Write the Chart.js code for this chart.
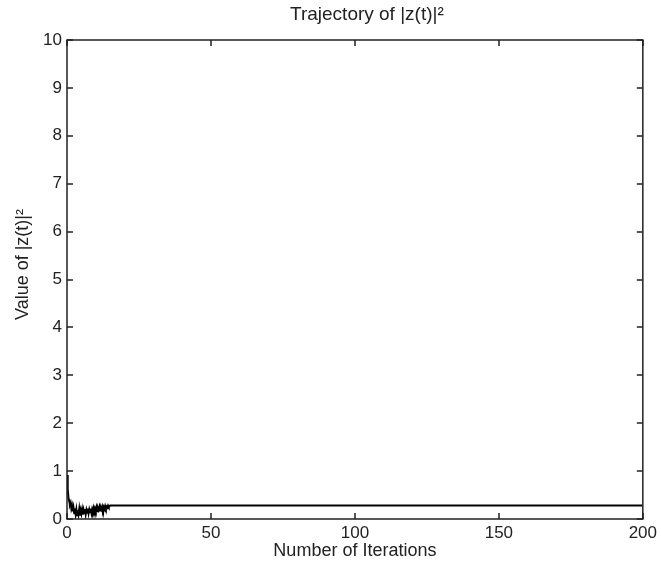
<!DOCTYPE html>
<html>
<head>
<meta charset="utf-8">
<script src="https://cdn.jsdelivr.net/npm/chart.js@4/dist/chart.umd.min.js"></script>
<style>
  html, body { margin: 0; padding: 0; background: #fff; }
  #wrap { width: 661px; height: 570px; }
</style>
</head>
<body>
<div id="wrap"><canvas id="trajChart" width="661" height="570"></canvas></div>
<script>
// iteration number (x) and |z(t)|^2 (y)
const iterations = [
  0, 0.25, 0.5, 0.75, 1, 1.25, 1.5, 1.75, 2, 2.25, 2.5, 2.75, 3, 3.25, 3.5, 3.75,
  4, 4.25, 4.5, 4.75, 5, 5.25, 5.5, 5.75, 6, 6.25, 6.5, 6.75, 7, 7.25, 7.5, 7.75,
  8, 8.25, 8.5, 8.75, 9, 9.25, 9.5, 9.75, 10, 10.25, 10.5, 10.75, 11, 11.25, 11.5, 11.75,
  12, 12.25, 12.5, 12.75, 13, 13.25, 13.5, 13.75, 14, 14.25, 14.5, 14.75, 15, 200
];
const zValues = [
  0.92, 0.62, 0.45, 0.38, 0.30, 0.34, 0.22, 0.28, 0.16, 0.24, 0.12, 0.22, 0.10, 0.20, 0.08, 0.19,
  0.10, 0.21, 0.07, 0.18, 0.11, 0.20, 0.09, 0.19, 0.12, 0.21, 0.10, 0.19, 0.13, 0.22, 0.12, 0.20,
  0.14, 0.22, 0.13, 0.21, 0.16, 0.23, 0.15, 0.22, 0.17, 0.24, 0.16, 0.23, 0.19, 0.25, 0.18, 0.24,
  0.20, 0.26, 0.19, 0.25, 0.21, 0.27, 0.22, 0.26, 0.24, 0.28, 0.25, 0.27, 0.28, 0.28
];
const xTicks = [0, 50, 100, 150, 200];
const yTicks = [0, 1, 2, 3, 4, 5, 6, 7, 8, 9, 10];

const FONT = "'Liberation Sans', Arial, sans-serif";

// matlab style box with inward ticks, plus title and y label
const boxPlugin = {
    id: 'boxPlugin',
    afterDraw(chart) {
        const c = chart.ctx;
        const a = chart.chartArea;
        const xs = chart.scales.x, ys = chart.scales.y;
        c.save();
        c.strokeStyle = '#222';
        c.lineWidth = 1.5;
        c.strokeRect(a.left, a.top, a.right - a.left, a.bottom - a.top);
        c.beginPath();
        xTicks.forEach(v => {
            const px = Math.round(xs.getPixelForValue(v));
            c.moveTo(px, a.bottom); c.lineTo(px, a.bottom - 6);
            c.moveTo(px, a.top); c.lineTo(px, a.top + 6);
        });
        yTicks.forEach(v => {
            const py = Math.round(ys.getPixelForValue(v));
            c.moveTo(a.left, py); c.lineTo(a.left + 6, py);
            c.moveTo(a.right, py); c.lineTo(a.right - 6, py);
        });
        c.stroke();
        c.fillStyle = '#222';
        c.textAlign = 'center';
        c.textBaseline = 'middle';
        // title
        c.font = '19px ' + FONT;
        c.fillText('Trajectory of |z(t)|²', (a.left + a.right) / 2 + 12, 15);
        // y label
        c.font = '18px ' + FONT;
        c.translate(23, (a.top + a.bottom) / 2 - 15);
        c.rotate(-Math.PI / 2);
        c.fillText('Value of |z(t)|²', 0, 0);
        c.restore();
    }
};

const ctx = document.getElementById('trajChart').getContext('2d');

new Chart(ctx, {
    type: 'line',
    data: {
        datasets: [{
            data: iterations.map((x, i) => ({ x: x, y: zValues[i] })),
            borderColor: '#000',
            borderWidth: 2,
            pointRadius: 0,
            tension: 0,
            fill: false
        }]
    },
    options: {
        responsive: false,
        animation: false,
        layout: { padding: { left: 0, right: 18, top: 40, bottom: 0 } },
        plugins: {
            legend: { display: false },
            title: { display: false },
            tooltip: { enabled: false }
        },
        scales: {
            x: {
                type: 'linear',
                min: 0, max: 200,
                afterFit: s => { s.height = 51; },
                afterBuildTicks: s => { s.ticks = xTicks.map(v => ({ value: v })); },
                grid: { display: false, drawTicks: false },
                border: { display: false },
                ticks: { color: '#222', font: { family: FONT, size: 17 }, padding: 4, maxRotation: 0 },
                title: { display: true, text: 'Number of Iterations', color: '#222',
                         font: { family: FONT, size: 18 }, padding: { top: 0, bottom: 8 } }
            },
            y: {
                min: 0, max: 10,
                afterFit: s => { s.width = 67; },
                afterBuildTicks: s => { s.ticks = yTicks.map(v => ({ value: v })); },
                grid: { display: false, drawTicks: false },
                border: { display: false },
                ticks: { color: '#222', font: { family: FONT, size: 17 }, padding: 5 }
            }
        }
    },
    plugins: [boxPlugin]
});
</script>
</body>
</html>
